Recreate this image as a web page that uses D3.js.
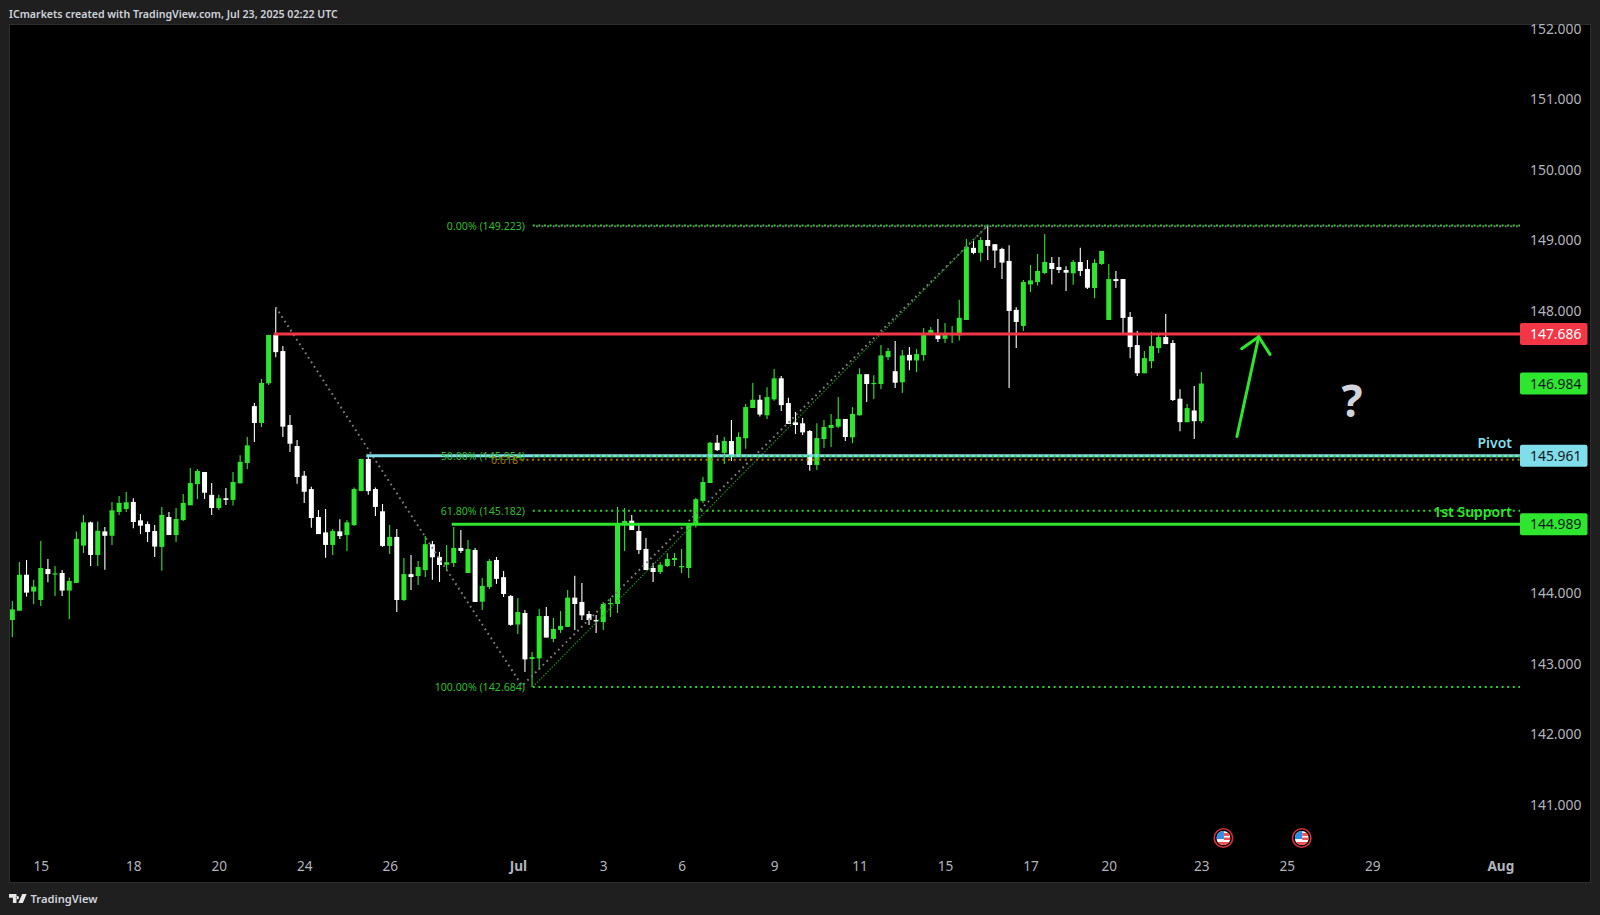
<!DOCTYPE html>
<html><head><meta charset="utf-8">
<script src="https://cdn.jsdelivr.net/npm/d3@7/dist/d3.min.js"></script>
<style>html,body{margin:0;padding:0;background:#1f1f1f;overflow:hidden}svg{display:block}text{font-family:"Noto Sans",sans-serif}</style>
</head><body><svg id="c" width="1600" height="915"></svg>
<script>
const high=[143.902,144.454,144.483,144.201,144.753,144.497,144.397,144.340,144.236,144.888,
145.121,145.030,145.030,144.950,145.306,145.391,145.445,145.358,145.135,145.030,
144.978,145.235,145.163,145.220,145.417,145.787,145.773,145.730,145.573,145.406,
145.502,145.730,145.967,146.226,146.707,147.049,147.676,148.065,147.515,146.539,
146.183,145.744,145.521,145.192,145.206,144.921,145.059,145.049,145.512,145.915,
145.969,145.512,145.277,144.978,144.921,144.511,144.554,144.468,144.822,144.753,
144.597,144.696,144.950,144.907,144.765,144.654,144.229,144.497,144.526,144.326,
143.987,143.945,143.774,143.178,143.788,143.816,143.660,143.759,144.059,144.258,
144.158,143.759,143.702,143.888,143.945,145.235,145.220,145.121,144.978,144.796,
144.440,144.454,144.578,144.583,144.639,144.978,145.363,145.659,146.155,146.254,
146.226,146.468,146.292,146.693,146.992,146.821,146.930,147.191,147.091,146.783,
146.582,146.496,146.325,146.420,146.468,146.553,146.792,146.482,146.650,147.201,
147.116,147.102,147.529,147.486,147.586,147.458,147.501,147.472,147.771,147.785,
147.899,147.842,147.800,148.170,149.032,149.003,149.060,149.223,148.959,148.907,
148.945,148.066,148.451,148.665,148.821,149.103,148.779,148.779,148.646,148.736,
148.907,148.736,148.745,148.864,148.679,148.579,148.465,147.999,147.728,147.444,
147.719,147.671,147.971,147.600,146.902,146.693,146.949,147.148];
const low=[143.387,143.764,143.963,143.854,143.830,144.167,143.973,143.973,143.645,144.158,
144.582,144.397,144.397,144.345,144.696,145.121,145.163,144.931,144.850,144.739,
144.525,144.331,144.836,144.739,145.035,145.258,145.349,145.349,145.121,145.192,
145.263,145.254,145.569,145.773,146.154,146.368,146.963,147.358,146.226,146.012,
145.564,145.292,144.940,144.850,144.516,144.554,144.782,144.611,144.964,145.459,
145.406,145.106,144.668,144.568,143.745,143.902,144.058,144.130,144.241,144.201,
144.172,144.340,144.383,144.583,144.298,143.888,143.774,144.073,144.144,143.959,
143.549,143.435,142.895,142.684,142.924,143.383,143.321,143.449,143.534,143.492,
143.631,143.563,143.449,143.492,143.674,143.731,144.611,144.907,144.568,144.340,
144.172,144.283,144.383,144.397,144.298,144.229,144.945,145.287,145.574,146.026,
145.844,145.887,145.948,146.059,146.636,146.515,146.482,146.740,146.596,146.411,
146.268,146.254,145.749,145.758,146.069,146.083,146.354,146.169,146.140,146.529,
146.721,146.764,146.906,147.315,146.921,146.849,147.173,147.144,147.306,147.671,
147.572,147.558,147.558,147.595,147.885,148.816,148.712,148.736,148.622,148.465,
146.921,147.486,147.728,148.280,148.375,148.536,148.389,148.551,148.294,148.384,
148.508,148.323,148.194,148.665,147.885,148.337,147.700,147.344,147.091,147.129,
147.201,147.415,147.543,146.735,146.308,146.436,146.199,146.422];
const open=[143.631,143.764,144.274,144.035,143.916,144.354,144.283,144.298,144.049,144.158,
144.687,145.016,144.554,144.888,144.826,145.163,145.206,145.306,145.045,144.992,
144.893,144.668,145.092,144.836,145.049,145.258,145.559,145.730,145.406,145.220,
145.358,145.334,145.569,145.858,146.664,146.425,146.987,147.672,147.444,146.397,
146.098,145.678,145.488,145.092,144.874,144.696,144.888,144.836,144.978,145.459,
145.915,145.488,145.173,144.682,144.810,143.916,144.283,144.255,144.340,144.706,
144.526,144.416,144.440,144.654,144.298,144.625,143.892,144.101,144.483,144.239,
143.973,143.568,143.731,143.079,143.088,143.688,143.364,143.492,143.534,143.949,
143.888,143.717,143.631,143.603,143.859,143.859,145.007,145.040,144.893,144.639,
144.369,144.312,144.397,144.483,144.383,144.369,145.002,145.320,145.574,146.145,
146.001,146.169,145.972,146.207,146.636,146.754,146.534,146.759,147.058,146.707,
146.434,146.420,146.311,145.830,146.197,146.354,146.373,146.482,146.221,146.534,
147.116,146.977,146.977,147.358,147.159,147.001,147.391,147.311,147.387,147.686,
147.686,147.619,147.671,147.667,147.885,148.907,148.836,149.018,148.959,148.892,
148.722,148.028,147.800,148.389,148.422,148.551,148.693,148.636,148.593,148.546,
148.707,148.608,148.337,148.679,147.885,148.465,148.465,147.928,147.529,147.129,
147.300,147.486,147.643,147.558,146.769,146.436,146.602,146.450];
const close=[143.783,144.274,144.020,144.106,144.369,144.283,144.293,144.049,144.186,144.782,
145.016,144.554,144.897,144.826,145.187,145.292,145.301,145.021,144.969,144.879,
144.673,145.121,144.836,145.064,145.292,145.573,145.744,145.436,145.220,145.358,
145.334,145.588,145.873,146.107,146.425,146.992,147.672,147.429,146.373,146.131,
145.659,145.450,145.078,144.850,144.696,144.893,144.821,145.016,145.488,145.915,
145.459,145.235,144.682,144.810,143.916,144.283,144.241,144.383,144.706,144.521,
144.412,144.450,144.654,144.611,144.639,143.888,144.115,144.469,144.215,144.001,
143.563,143.745,143.074,143.107,143.688,143.383,143.506,143.549,143.949,143.859,
143.698,143.631,143.612,143.859,143.873,144.978,145.035,144.907,144.625,144.340,
144.312,144.416,144.497,144.511,144.397,144.978,145.344,145.588,146.145,146.040,
146.169,145.958,146.226,146.650,146.754,146.544,146.792,147.058,146.678,146.411,
146.396,146.292,145.830,146.211,146.368,146.396,146.482,146.226,146.553,147.116,
146.977,146.992,147.382,147.444,146.996,147.382,147.311,147.401,147.700,147.743,
147.614,147.671,147.686,147.914,148.921,148.836,149.018,148.935,148.869,148.698,
148.013,147.857,148.422,148.446,148.579,148.707,148.608,148.593,148.555,148.707,
148.579,148.342,148.693,148.864,148.465,148.437,147.914,147.501,147.130,147.344,
147.515,147.643,147.543,146.750,146.436,146.636,146.450,146.984];

const priceTicks=[141,142,143,144,145,146,147,148,149,150,151,152];
const dateTickIndex=[4,17,29,41,53,71,83,94,107,119,131,143,154,167,179,191,209];
const dateTickLabel=["15","18","20","24","26","Jul","3","6","9","11","15","17","20","23","25","29","Aug"];
const boldDateLabels=["Jul","Aug"];

const fibLevels=[149.223,145.954,145.182,142.684];
const fibLabels=["0.00% (149.223)","50.00% (145.954)","61.80% (145.182)","100.00% (142.684)"];
const orangeLevel=145.905, orangeLabel="0.618";
const levelPrices=[147.686,145.961,144.989];
const levelStartIndex=[37,50,62];
const levelNames=["","Pivot","1st Support"];
const lastPrice=146.984;
const grayZigzagIndex=[37,71.6,137], grayZigzagPrice=[148.065,142.70,149.223];
const greenDiagIndex=[73.1,137], greenDiagPrice=[142.684,149.223];
const arrowIndex=[172,175.06], arrowPrice=[146.233,147.648];
const wingIndex=[172.67,176.64], wingPrice=[147.477,147.397];
const eventIndex=[170.1,181.1];

const W=1600,H=915,L=10,R=1590,T=25,B=882;
const GREEN="#2ee62e",RED="#f23645",BLUE="#80deea",AXIS="#b2b5be",DIM="#2fbd2f";
const x=d3.scaleLinear().domain([0,100]).range([12.3,724.3]);
const y=d3.scaleLinear().domain([141,152]).range([334+(147.686-141)*70.55,334+(147.686-152)*70.55]);
const endX=1520;
const fibEnd=x.invert(1520);

const svg=d3.select("#c");
svg.append("rect").attr("width",W).attr("height",H).attr("fill","#1f1f1f");
svg.append("rect").attr("x",L-.5).attr("y",T-.5).attr("width",R-L+1).attr("height",B-T+1).attr("fill","#000").attr("stroke","#2e2e2e");
svg.append("defs").append("clipPath").attr("id","plot").append("rect").attr("x",L).attr("y",T).attr("width",R-L).attr("height",B-T);
const g=svg.append("g").attr("clip-path","url(#plot)");

// candles
const idx=d3.range(close.length);
const col=i=>close[i]>=open[i]?GREEN:"#ffffff";
g.append("g").selectAll("line").data(idx).join("line")
 .attr("x1",x).attr("x2",x).attr("y1",i=>y(high[i])).attr("y2",i=>y(low[i]))
 .attr("stroke",col).attr("stroke-width",1.1);
g.append("g").selectAll("rect").data(idx).join("rect")
 .attr("x",i=>x(i)-2.5).attr("width",5)
 .attr("y",i=>y(Math.max(open[i],close[i])))
 .attr("height",i=>Math.max(1.2,Math.abs(y(open[i])-y(close[i]))))
 .attr("fill",col);

const lineGen=d3.line().x(d=>x(d[0])).y(d=>y(d[1]));
// gray zigzag and green diagonal
g.append("path").attr("d",lineGen(d3.zip(grayZigzagIndex,grayZigzagPrice))).attr("fill","none")
 .attr("stroke","#7a7a7a").attr("stroke-width",2).attr("stroke-dasharray","1.8 3.6");
g.append("path").attr("d",lineGen(d3.zip(greenDiagIndex,greenDiagPrice))).attr("fill","none")
 .attr("stroke","#209a20").attr("stroke-width",1.1).attr("stroke-dasharray","1.5 1.5");

// horizontal levels
levelPrices.forEach((p,k)=>{
 g.append("line").attr("x1",x(levelStartIndex[k])-2).attr("x2",endX).attr("y1",y(p)).attr("y2",y(p))
  .attr("stroke",[RED,BLUE,GREEN][k]).attr("stroke-width",3);
});
// fib levels
g.append("line").attr("x1",x(73.1)).attr("x2",x(fibEnd)).attr("y1",y(fibLevels[0])+.6).attr("y2",y(fibLevels[0])+.6)
 .attr("stroke","#7a7a7a").attr("stroke-width",2).attr("stroke-dasharray","2 3.6").attr("stroke-dashoffset",2.5);
fibLevels.forEach((p,k)=>{
 g.append("line").attr("x1",x(73.1)).attr("x2",x(fibEnd)).attr("y1",y(p)).attr("y2",y(p))
  .attr("stroke","#2ad02a").attr("stroke-width",2).attr("stroke-dasharray","2 3.6");
 g.append("text").attr("x",525).attr("y",y(p)+4).attr("text-anchor","end").attr("font-size",10.6).attr("fill",DIM).text(fibLabels[k]);
});
g.append("line").attr("x1",x(73.1)-12).attr("x2",x(fibEnd)).attr("y1",y(orangeLevel)).attr("y2",y(orangeLevel))
 .attr("stroke","#b07a00").attr("stroke-width",2).attr("stroke-dasharray","2 3.6");
g.append("text").attr("x",518).attr("y",y(orangeLevel)+4).attr("text-anchor","end").attr("font-size",10.6).attr("fill","#a87400").text(orangeLabel);

// level names
[[1,BLUE],[2,GREEN]].forEach(([k,c])=>{
 g.append("text").attr("x",1512).attr("y",y(levelPrices[k])-(k==1?8:7)).attr("text-anchor","end")
  .attr("font-size",14).attr("font-weight",600).attr("fill",c).text(levelNames[k]);
});

// arrow
g.append("path").attr("d",lineGen(d3.zip(arrowIndex,arrowPrice))).attr("fill","none")
 .attr("stroke",GREEN).attr("stroke-width",3).attr("stroke-linecap","round");
g.append("path").attr("d",lineGen([[wingIndex[0],wingPrice[0]],[arrowIndex[1],arrowPrice[1]],[wingIndex[1],wingPrice[1]]])).attr("fill","none")
 .attr("stroke",GREEN).attr("stroke-width",3).attr("stroke-linecap","round").attr("stroke-linejoin","round");
g.append("text").attr("x",1352).attr("y",416.5).attr("text-anchor","middle").attr("font-size",44).attr("font-weight",700).attr("fill","#d1d4dc").text("?");

// axes
const yAxis=d3.axisRight(y).tickValues(priceTicks).tickFormat(d3.format(".3f")).tickSize(0).tickPadding(0);
const ya=svg.append("g").attr("transform","translate(1530,-1)").call(yAxis);
ya.select(".domain").remove();
ya.selectAll("text").style("font-family","'Noto Sans',sans-serif").attr("font-size",13.9).attr("fill",AXIS);
const xAxis=d3.axisBottom(x).tickValues(dateTickIndex).tickFormat((d,i)=>dateTickLabel[i]).tickSize(0).tickPadding(0);
const xa=svg.append("g").attr("transform","translate(0,861)").call(xAxis);
xa.select(".domain").remove();
xa.selectAll("text").style("font-family","'Noto Sans',sans-serif").attr("font-size",13.6).attr("fill",AXIS)
 .attr("font-weight",function(){return boldDateLabels.includes(this.textContent)?700:400;});

// price labels
[[levelPrices[0],RED,"#fff"],[lastPrice,GREEN,"#131722"],[levelPrices[1],BLUE,"#131722"],[levelPrices[2],GREEN,"#131722"]].forEach(([p,bg,fg])=>{
 svg.append("rect").attr("x",1520).attr("y",y(p)-11).attr("width",67.5).attr("height",22).attr("rx",2).attr("fill",bg);
 svg.append("text").attr("x",1530).attr("y",y(p)+5).attr("font-size",13.9).attr("fill",fg).text(d3.format(".3f")(p));
});

// event flags
const defs=svg.select("defs");
eventIndex.forEach((e,k)=>{
 const cx=x(e),cy=838,id="fl"+k;
 defs.append("clipPath").attr("id",id).append("circle").attr("cx",cx).attr("cy",cy).attr("r",7);
 svg.append("circle").attr("cx",cx).attr("cy",cy).attr("r",9.2).attr("fill","#000").attr("stroke","#d9303e").attr("stroke-width",1.6);
 const f=svg.append("g").attr("clip-path","url(#"+id+")");
 f.append("rect").attr("x",cx-7).attr("y",cy-7).attr("width",14).attr("height",14).attr("fill","#fff");
 f.append("rect").attr("x",cx+.5).attr("y",cy-5).attr("width",7).attr("height",3).attr("fill","#ef5350");
 f.append("rect").attr("x",cx+.5).attr("y",cy-.5).attr("width",7).attr("height",2.5).attr("fill","#ef5350");
 f.append("rect").attr("x",cx-7).attr("y",cy+4).attr("width",14).attr("height",3).attr("fill","#ef5350");
 f.append("rect").attr("x",cx-7).attr("y",cy-7).attr("width",7.5).attr("height",8).attr("fill","#2f8ce8");
});

// header & footer
svg.append("text").attr("x",9).attr("y",18).attr("font-size",10.6).attr("font-weight",600).attr("fill","#d1d4dc")
 .text("ICmarkets created with TradingView.com, Jul 23, 2025 02:22 UTC");
svg.append("path").attr("fill","#e8e8e8").attr("d","M9 894h7.5v9h-3.6v-5.2H9zM17.4 896a1.6 1.6 0 1 0 .01 0zM22.2 894h4.5l-3.8 9h-4.6z");
svg.append("text").attr("x",30.5).attr("y",903).attr("font-size",11.2).attr("font-weight",600).attr("fill","#d1d4dc").text("TradingView");
</script></body></html>
